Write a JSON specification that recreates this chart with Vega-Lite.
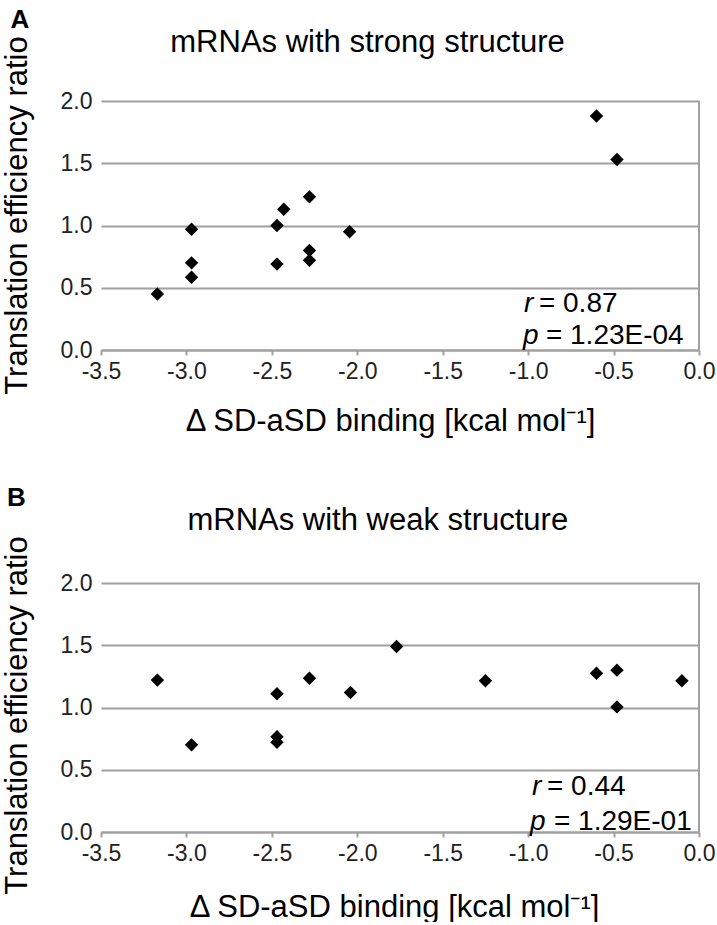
{
  "$schema": "https://vega.github.io/schema/vega-lite/v6.json",
  "background": "white",
  "padding": {"left": 0, "top": 6, "right": 0, "bottom": 0},
  "config": {
    "font": "Liberation Sans",
    "view": {"stroke": null},
    "axis": {
      "labelFont": "Liberation Sans",
      "titleFont": "Liberation Sans",
      "labelFontSize": 23,
      "labelColor": "#222222",
      "titleFontSize": 31,
      "titleFontWeight": "normal",
      "titleColor": "#000000",
      "gridColor": "#a0a0a0",
      "gridWidth": 2,
      "domainColor": "#a0a0a0",
      "domainWidth": 2,
      "tickColor": "#a0a0a0",
      "tickWidth": 2
    }
  },
  "datasets": {
    "strong": [
      {"dG": -3.17, "ratio": 0.45},
      {"dG": -2.97, "ratio": 0.97},
      {"dG": -2.97, "ratio": 0.70},
      {"dG": -2.97, "ratio": 0.585},
      {"dG": -2.47, "ratio": 1.00},
      {"dG": -2.47, "ratio": 0.69},
      {"dG": -2.43, "ratio": 1.13},
      {"dG": -2.28, "ratio": 1.23},
      {"dG": -2.28, "ratio": 0.80},
      {"dG": -2.28, "ratio": 0.72},
      {"dG": -2.045, "ratio": 0.95},
      {"dG": -0.60, "ratio": 1.88},
      {"dG": -0.48, "ratio": 1.53}
    ],
    "weak": [
      {"dG": -3.17, "ratio": 1.22},
      {"dG": -2.97, "ratio": 0.70},
      {"dG": -2.47, "ratio": 1.11},
      {"dG": -2.47, "ratio": 0.765},
      {"dG": -2.47, "ratio": 0.72},
      {"dG": -2.28, "ratio": 1.235},
      {"dG": -2.04, "ratio": 1.12},
      {"dG": -1.77, "ratio": 1.49},
      {"dG": -1.25, "ratio": 1.215},
      {"dG": -0.60, "ratio": 1.275},
      {"dG": -0.48, "ratio": 1.30},
      {"dG": -0.48, "ratio": 1.005},
      {"dG": -0.10, "ratio": 1.215}
    ]
  },
  "bounds": "flush",
  "spacing": 233,
  "vconcat": [
    {
      "width": 598,
      "height": 249,
      "layer": [
        {
          "data": {"name": "strong"},
          "mark": {"type": "point", "shape": "diamond", "filled": true, "color": "#000000", "opacity": 1, "size": 180},
          "encoding": {
            "x": {
              "field": "dG", "type": "quantitative",
              "scale": {"domain": [-3.5, 0], "nice": false, "zero": false},
              "axis": {
                "title": "Δ SD-aSD binding [kcal mol⁻¹]",
                "titleBaseline": "alphabetic", "titleAlign": "center", "titleX": 289, "titleY": 80,
                "values": [-3.5, -3, -2.5, -2, -1.5, -1, -0.5, 0],
                "labelExpr": "replace(format(datum.value, '.1f'), '−', '-')",
                "labelFlush": false, "labelPadding": 5, "tickSize": 5, "grid": false
              }
            },
            "y": {
              "field": "ratio", "type": "quantitative",
              "scale": {"domain": [0, 2], "nice": false, "zero": true},
              "axis": {
                "title": "Translation efficiency ratio",
                "titleBaseline": "alphabetic", "titleAlign": "center", "titleAngle": 270, "titleX": -75, "titleY": 114,
                "values": [0, 0.5, 1, 1.5, 2],
                "labelExpr": "format(datum.value, '.1f')",
                "ticks": false, "domain": false, "grid": true, "labelPadding": 9
              }
            }
          }
        },
        {
          "data": {"values": [{}]},
          "mark": {"type": "rule", "color": "#a0a0a0", "strokeWidth": 2},
          "encoding": {"x": {"datum": 0}, "y": {"datum": 0}, "y2": {"datum": 2}}
        },
        {
          "data": {"values": [{}]},
          "mark": {"type": "text", "text": "mRNAs with strong structure", "fontSize": 31, "align": "center", "baseline": "alphabetic", "color": "#000000"},
          "encoding": {"x": {"datum": -1.94}, "y": {"datum": 2.391}}
        },
        {
          "data": {"values": [{}]},
          "mark": {"type": "text", "text": "A", "fontSize": 26, "fontWeight": "bold", "align": "left", "baseline": "alphabetic", "color": "#000000"},
          "encoding": {"x": {"datum": -4.03}, "y": {"datum": 2.59}}
        },
        {
          "data": {"values": [{}]},
          "mark": {"type": "text", "text": "r", "fontSize": 28, "fontStyle": "italic", "align": "left", "baseline": "alphabetic", "color": "#000000"},
          "encoding": {"x": {"datum": -1.024}, "y": {"datum": 0.302}}
        },
        {
          "data": {"values": [{}]},
          "mark": {"type": "text", "text": "= 0.87", "fontSize": 28, "align": "left", "baseline": "alphabetic", "color": "#000000"},
          "encoding": {"x": {"datum": -0.937}, "y": {"datum": 0.302}}
        },
        {
          "data": {"values": [{}]},
          "mark": {"type": "text", "text": "p", "fontSize": 28, "fontStyle": "italic", "align": "left", "baseline": "alphabetic", "color": "#000000"},
          "encoding": {"x": {"datum": -1.03}, "y": {"datum": 0.045}}
        },
        {
          "data": {"values": [{}]},
          "mark": {"type": "text", "text": "= 1.23E-04", "fontSize": 28, "align": "left", "baseline": "alphabetic", "color": "#000000"},
          "encoding": {"x": {"datum": -0.896}, "y": {"datum": 0.045}}
        }
      ]
    },
    {
      "width": 598,
      "height": 249,
      "layer": [
        {
          "data": {"name": "weak"},
          "mark": {"type": "point", "shape": "diamond", "filled": true, "color": "#000000", "opacity": 1, "size": 180},
          "encoding": {
            "x": {
              "field": "dG", "type": "quantitative",
              "scale": {"domain": [-3.5, 0], "nice": false, "zero": false},
              "axis": {
                "title": "Δ SD-aSD binding [kcal mol⁻¹]",
                "titleBaseline": "alphabetic", "titleAlign": "center", "titleX": 293, "titleY": 84,
                "values": [-3.5, -3, -2.5, -2, -1.5, -1, -0.5, 0],
                "labelExpr": "replace(format(datum.value, '.1f'), '−', '-')",
                "labelFlush": false, "labelPadding": 5, "tickSize": 5, "grid": false
              }
            },
            "y": {
              "field": "ratio", "type": "quantitative",
              "scale": {"domain": [0, 2], "nice": false, "zero": true},
              "axis": {
                "title": "Translation efficiency ratio",
                "titleBaseline": "alphabetic", "titleAlign": "center", "titleAngle": 270, "titleX": -75, "titleY": 132,
                "values": [0, 0.5, 1, 1.5, 2],
                "labelExpr": "format(datum.value, '.1f')",
                "ticks": false, "domain": false, "grid": true, "labelPadding": 9
              }
            }
          }
        },
        {
          "data": {"values": [{}]},
          "mark": {"type": "rule", "color": "#a0a0a0", "strokeWidth": 2},
          "encoding": {"x": {"datum": 0}, "y": {"datum": 0}, "y2": {"datum": 2}}
        },
        {
          "data": {"values": [{}]},
          "mark": {"type": "text", "text": "mRNAs with weak structure", "fontSize": 31, "align": "center", "baseline": "alphabetic", "color": "#000000"},
          "encoding": {"x": {"datum": -1.88}, "y": {"datum": 2.422}}
        },
        {
          "data": {"values": [{}]},
          "mark": {"type": "text", "text": "B", "fontSize": 26, "fontWeight": "bold", "align": "left", "baseline": "alphabetic", "color": "#000000"},
          "encoding": {"x": {"datum": -4.05}, "y": {"datum": 2.62}}
        },
        {
          "data": {"values": [{}]},
          "mark": {"type": "text", "text": "r", "fontSize": 28, "fontStyle": "italic", "align": "left", "baseline": "alphabetic", "color": "#000000"},
          "encoding": {"x": {"datum": -0.977}, "y": {"datum": 0.30}}
        },
        {
          "data": {"values": [{}]},
          "mark": {"type": "text", "text": "= 0.44", "fontSize": 28, "align": "left", "baseline": "alphabetic", "color": "#000000"},
          "encoding": {"x": {"datum": -0.89}, "y": {"datum": 0.30}}
        },
        {
          "data": {"values": [{}]},
          "mark": {"type": "text", "text": "p", "fontSize": 28, "fontStyle": "italic", "align": "left", "baseline": "alphabetic", "color": "#000000"},
          "encoding": {"x": {"datum": -0.989}, "y": {"datum": 0.02}}
        },
        {
          "data": {"values": [{}]},
          "mark": {"type": "text", "text": "= 1.29E-01", "fontSize": 28, "align": "left", "baseline": "alphabetic", "color": "#000000"},
          "encoding": {"x": {"datum": -0.849}, "y": {"datum": 0.02}}
        }
      ]
    }
  ]
}
